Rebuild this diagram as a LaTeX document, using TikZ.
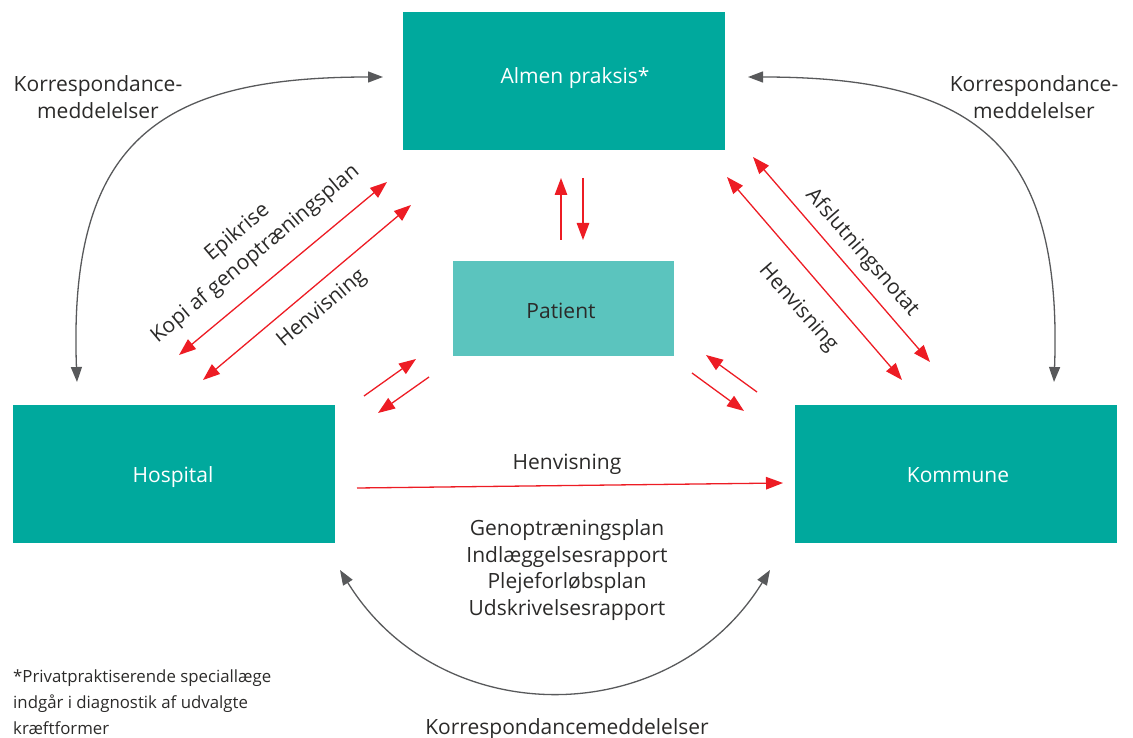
\documentclass[tikz,border=0pt]{standalone}
\usepackage{fontspec}
\setmainfont{Open Sans}
\usetikzlibrary{arrows.meta}
\definecolor{boxteal}{HTML}{00A99D}
\definecolor{patientteal}{HTML}{5BC4BE}
\definecolor{flowred}{HTML}{ED1C24}
\definecolor{curvegrey}{HTML}{58595B}
\definecolor{inkgrey}{HTML}{2B2A29}
\newcommand\diagfont{\fontsize{21}{26.5}\selectfont}
\newcommand\notefont{\fontsize{16.8}{26}\selectfont}
\begin{document}
\begin{tikzpicture}[x=1pt,y=-1pt,
  box/.style={fill=boxteal, minimum width=322pt, minimum height=138pt, inner sep=0pt},
  patientbox/.style={fill=patientteal, minimum width=221pt, minimum height=95pt, inner sep=0pt},
  boxtext/.style={text=white, font=\diagfont, inner sep=0pt, text height=15pt, text depth=0pt},
  lbl/.style={text=inkgrey, font=\diagfont, inner sep=0pt, align=center},
  redflow/.style={draw=flowred, line width=1.3pt,
    -{Triangle[length=17pt,width=12.5pt]}},
  redboth/.style={draw=flowred, line width=1.3pt,
    {Triangle[length=17pt,width=12.5pt]}-{Triangle[length=17pt,width=12.5pt]}},
  greyboth/.style={draw=curvegrey, line width=1.3pt,
    {Triangle[length=15pt,width=11pt]}-{Triangle[length=15pt,width=11pt]}}
]
\useasboundingbox (0,0) rectangle (1133,738);

% the four parties
\node[box] (almen) at (564,81) {};
\node[patientbox] (patient) at (563.5,308.5) {};
\node[box] (hospital) at (174,474) {};
\node[box] (kommune) at (956,474) {};
\node[boxtext] (almentext) at (575,76) {Almen praksis*};
\node[boxtext, text=inkgrey] (patienttext) at (561,311) {Patient};
\node[boxtext] (hospitaltext) at (173,475) {Hospital};
\node[boxtext] (kommunetext) at (958,475) {Kommune};

% end points of the message flows
\coordinate (ap1) at (387,182);  \coordinate (ap2) at (179,355);
\coordinate (hv1) at (411,205);  \coordinate (hv2) at (203,380);
\coordinate (kh1) at (727,177);  \coordinate (kh2) at (902,380);
\coordinate (ka1) at (753,157);  \coordinate (ka2) at (930,362);
\coordinate (pu1) at (561,240);  \coordinate (pu2) at (561,178);
\coordinate (pd1) at (583,178);  \coordinate (pd2) at (583,240);
\coordinate (lu1) at (364,396);  \coordinate (lu2) at (416,359);
\coordinate (ld1) at (429,377);  \coordinate (ld2) at (378,413);
\coordinate (ru1) at (757,392);  \coordinate (ru2) at (706,355);
\coordinate (rd1) at (692,373);  \coordinate (rd2) at (744,411);
\coordinate (hk1) at (357,488);  \coordinate (hk2) at (783,483);

% red message arrows
\draw[redboth] (ap1) -- (ap2);
\draw[redboth] (hv1) -- (hv2);
\draw[redboth] (kh1) -- (kh2);
\draw[redboth] (ka1) -- (ka2);
\draw[redflow] (pu1) -- (pu2);
\draw[redflow] (pd1) -- (pd2);
\draw[redflow] (lu1) -- (lu2);
\draw[redflow] (ld1) -- (ld2);
\draw[redflow] (ru1) -- (ru2);
\draw[redflow] (rd1) -- (rd2);
\draw[redflow] (hk1) -- (hk2);

% grey correspondence curves
\coordinate (cl1) at (383,77);  \coordinate (cl2) at (77,382);
\coordinate (cr1) at (748,77);  \coordinate (cr2) at (1054,382);
\coordinate (cb1) at (340,570); \coordinate (cb2) at (770,570);
\draw[greyboth] (cl1) .. controls (160,77) and (68,140) .. (cl2);
\draw[greyboth] (cr1) .. controls (971,77) and (1063,140) .. (cr2);
\draw[greyboth] (cb1) .. controls (440,732) and (670,732) .. (cb2);

% labels
\node[lbl] (kl) at (98,97) {Korrespondance-\\meddelelser};
\node[lbl] (kr) at (1034,97) {Korrespondance-\\meddelelser};
\node[lbl] (kb) at (567,729) {Korrespondancemeddelelser};
\node[lbl, rotate=40, font=\fontsize{21}{28}\selectfont] (epi) at (246.5,243.5)
  {Epikrise\\Kopi af genoptræningsplan};
\node[lbl, rotate=40] (hvl) at (322,309) {Henvisning};
\node[lbl, rotate=-49] (afs) at (862,253) {Afslutningsnotat};
\node[lbl, rotate=-49] (hvr) at (798,308) {Henvisning};
\node[lbl] (hvh) at (567,464) {Henvisning};
\node[lbl] (docs) at (567,570) {Genoptræningsplan\\Indlæggelsesrapport\\Plejeforløbsplan\\Udskrivelsesrapport};
\node[lbl, font=\notefont, align=left, anchor=north west] (note) at (13,670)
  {*Privatpraktiserende speciallæge\\indgår i diagnostik af udvalgte\\kræftformer};
\end{tikzpicture}
\end{document}
